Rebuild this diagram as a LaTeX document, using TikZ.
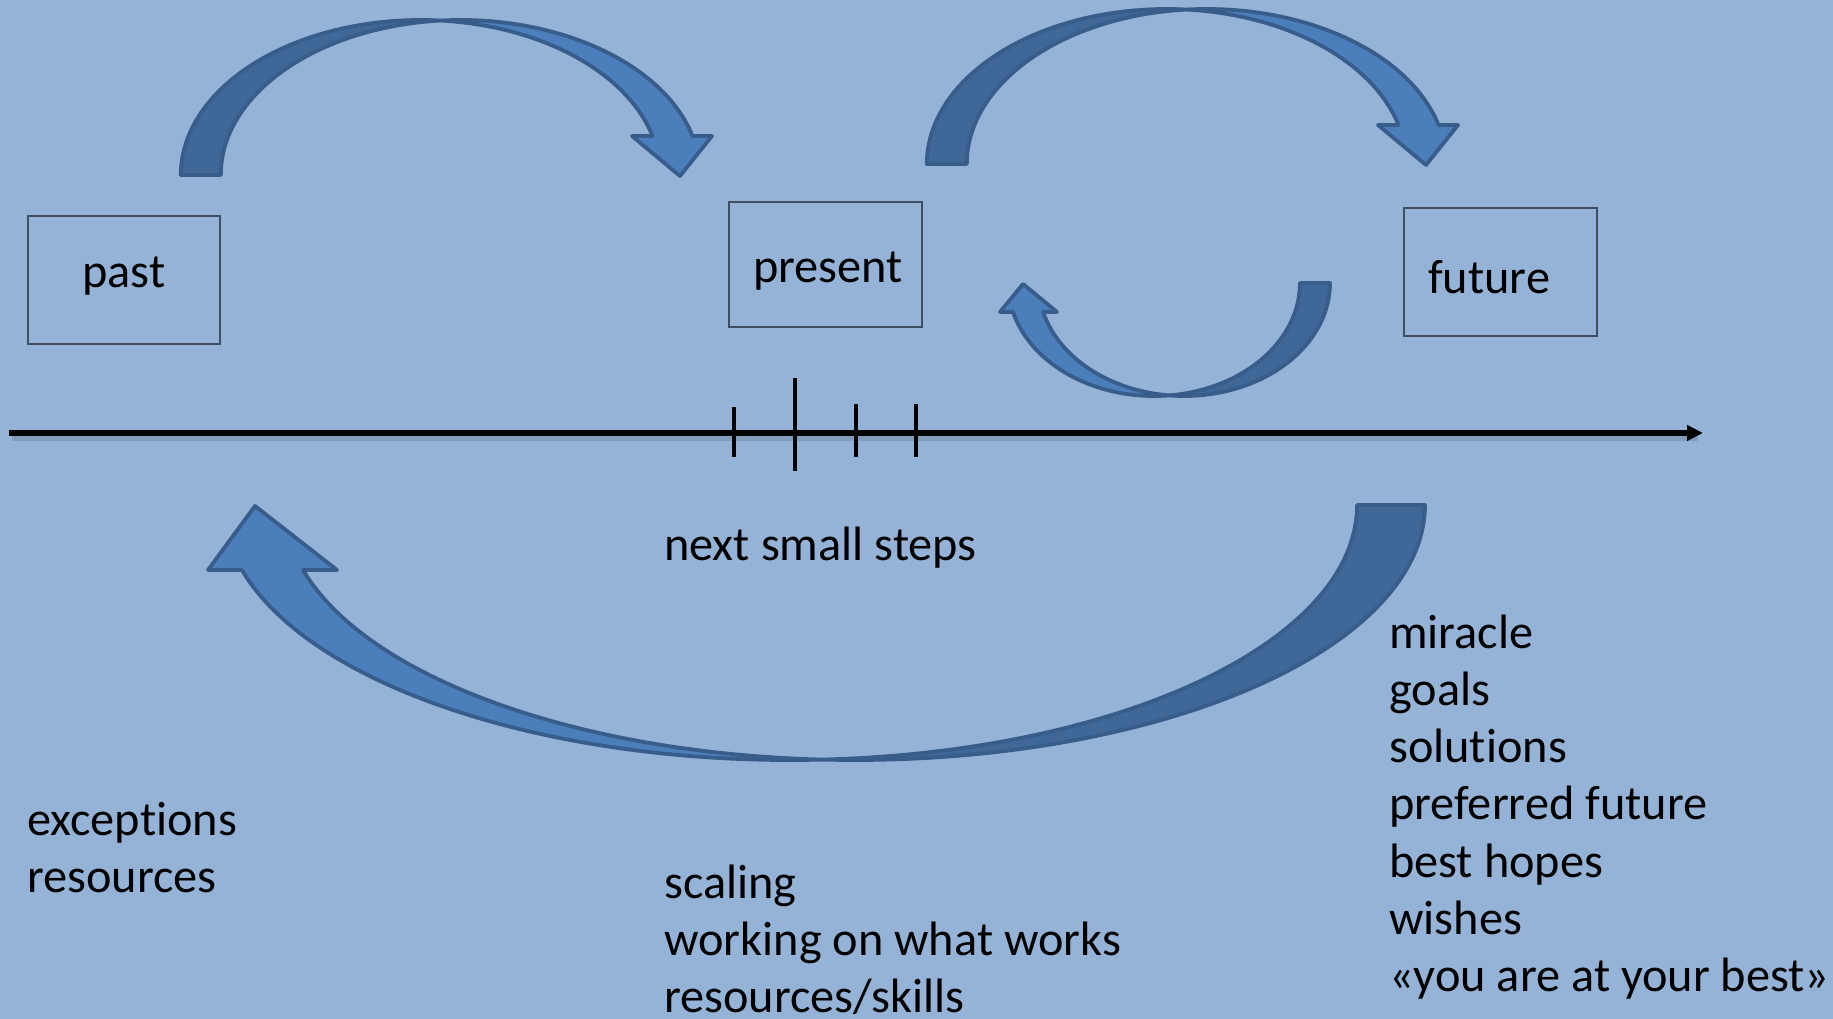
\documentclass[tikz,border=0pt]{standalone}
\usepackage{fontspec}
\setmainfont{Carlito}[Ligatures=NoCommon]
\usetikzlibrary{arrows.meta}
\definecolor{bg}{RGB}{149,179,215}
\definecolor{darkfill}{RGB}{63,103,151}
\definecolor{lightfill}{RGB}{75,127,188}
\definecolor{edge}{RGB}{56,93,138}
\definecolor{boxedge}{RGB}{65,78,96}
\begin{document}
\begin{tikzpicture}[x=1pt,y=-1pt,
 lbl/.style={anchor=base west,inner sep=0pt,font=\fontsize{48.3}{58}\selectfont},
 boxst/.style={draw=boxedge,line width=2pt,inner sep=0pt},
 back/.style={fill=darkfill,draw=edge,line width=3.8pt,line join=round},
 front/.style={fill=lightfill,draw=edge,line width=3.8pt,line join=round},
 axis/.style={line width=6pt,-{Triangle[length=16pt,width=15pt]}},
 tick/.style={line width=4.3pt}]
\fill[bg] (0,0) rectangle (1833,1019);
\useasboundingbox (0,0) rectangle (1833,1019);

% boxes
\node[boxst,minimum width=192pt,minimum height=128pt] (past) at (124,280) {};
\node[boxst,minimum width=193pt,minimum height=125pt] (present) at (825.5,264.5) {};
\node[boxst,minimum width=193pt,minimum height=128pt] (future) at (1500.5,272) {};
\node[lbl] (pastt) at (82,287) {past};
\node[lbl] (presentt) at (753,282) {present};
\node[lbl] (futuret) at (1428,293) {future};

% arrow 1 : past -> present
\path[back] ([shift={(420.5,175)}]180:239.7 and 155) arc[start angle=180,end angle=274.79,x radius=239.7,y radius=155] arc[start angle=265.21,end angle=180,x radius=239.7,y radius=155] -- cycle;
\path[front] ([shift={(420.5,175)}]345.43:239.7 and 155) arc[start angle=345.43,end angle=274.79,x radius=239.7,y radius=155] arc[start angle=265.21,end angle=345.43,x radius=239.7,y radius=155] -- (712,136) -- (680,176) -- (632,136) -- cycle;

% arrow 2 : present -> future
\begin{scope}[shift={(746,-11)}]
\path[back] ([shift={(420.5,175)}]180:239.7 and 155) arc[start angle=180,end angle=274.79,x radius=239.7,y radius=155] arc[start angle=265.21,end angle=180,x radius=239.7,y radius=155] -- cycle;
\path[front] ([shift={(420.5,175)}]345.43:239.7 and 155) arc[start angle=345.43,end angle=274.79,x radius=239.7,y radius=155] arc[start angle=265.21,end angle=345.43,x radius=239.7,y radius=155] -- (712,136) -- (680,176) -- (632,136) -- cycle;
\end{scope}

% arrow 3 : small, future -> present
\path[back] ([shift={(1154,283)}]0:145.9 and 113) arc[start angle=0,end angle=84.08,x radius=145.9,y radius=113] arc[start angle=95.92,end angle=0,x radius=145.9,y radius=113] -- cycle;
\path[front] ([shift={(1184.1,283)}]165.13:145.9 and 113) arc[start angle=165.13,end angle=95.92,x radius=145.9,y radius=113] arc[start angle=84.08,end angle=165.13,x radius=145.9,y radius=113] -- (1000,312) -- (1023,284) -- (1057,312) -- cycle;

% arrow 4 : big, future -> past
\path[back] ([shift={(790.1,505)}]0:566.9 and 255) arc[start angle=0,end angle=86.75,x radius=566.9,y radius=255] arc[start angle=93.25,end angle=0,x radius=570.4,y radius=255] -- cycle;
\path[front] ([shift={(854.6,505)}]165.23:570.4 and 255) arc[start angle=165.23,end angle=93.25,x radius=570.4,y radius=255] arc[start angle=86.75,end angle=165.23,x radius=566.9,y radius=255] -- (208,570) -- (255,506) -- (337,570) -- cycle;

% timeline
\coordinate (tl0) at (9,433);
\coordinate (tl1) at (1703,433);
\draw[line width=7pt,black,opacity=0.12] (12,437) -- (1698,437);
\draw[axis] (tl0) -- (tl1);
\draw[tick] (734,407) -- (734,457);
\draw[tick] (795,378) -- (795,471);
\draw[tick] (856,404) -- (856,457);
\draw[tick] (916,404) -- (916,457);

% labels
\node[lbl] (nss) at (664,560) {next small steps};

\node[lbl] (f1) at (1389,648) {miracle};
\node[lbl] (f2) at (1389,705.3) {goals};
\node[lbl] (f3) at (1389,762.6) {solutions};
\node[lbl] (f4) at (1389,819.9) {preferred future};
\node[lbl] (f5) at (1389,877.2) {best hopes};
\node[lbl] (f6) at (1389,934.5) {wishes};
\node[lbl] (f7) at (1389,991.8) {«you are at your best»};

\node[lbl] (p1) at (27,835) {exceptions};
\node[lbl] (p2) at (27,892) {resources};

\node[lbl] (n1) at (664,898) {scaling};
\node[lbl] (n2) at (664,955) {working on what works};
\node[lbl] (n3) at (664,1012) {resources/skills};
\end{tikzpicture}
\end{document}
